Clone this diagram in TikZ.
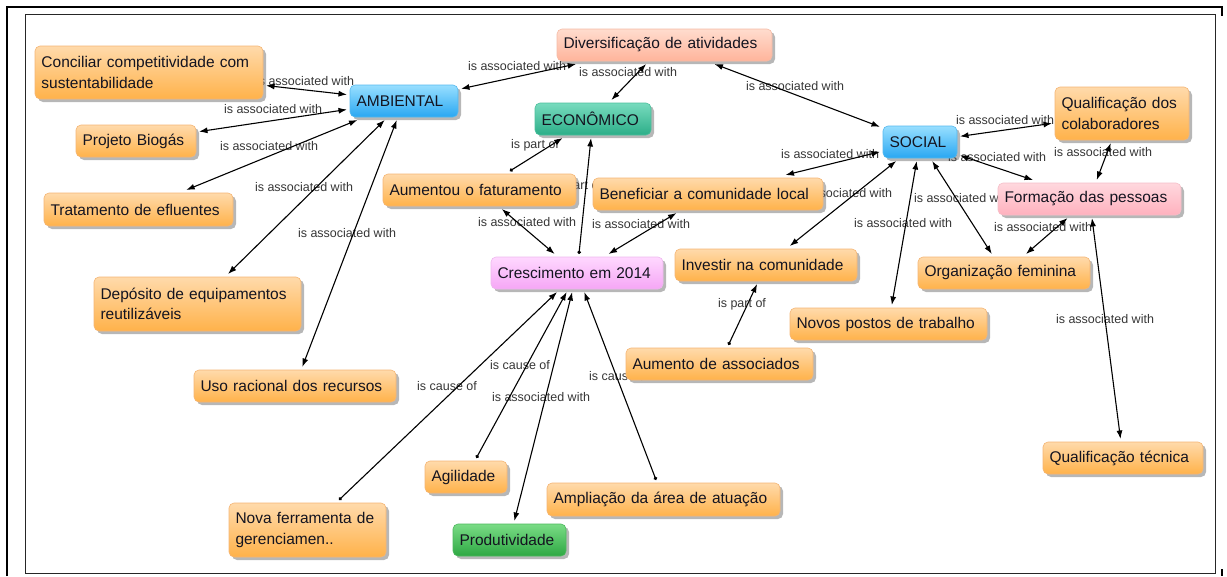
\documentclass[tikz,border=0pt]{standalone}
\usepackage{fontspec}
\setmainfont{Liberation Sans}
\usetikzlibrary{arrows.meta,shadows,backgrounds}

% concept fills: top / bottom of the gradient and outline
\definecolor{orTop}{HTML}{FFDAAB}
\definecolor{orBot}{HTML}{FFB24A}
\definecolor{orLine}{HTML}{F4B575}
\definecolor{blTop}{HTML}{98DFFF}
\definecolor{blBot}{HTML}{29A7F2}
\definecolor{blLine}{HTML}{55B8EE}
\definecolor{saTop}{HTML}{FFDCCE}
\definecolor{saBot}{HTML}{FFB49B}
\definecolor{saLine}{HTML}{F5BBA6}
\definecolor{teTop}{HTML}{78DBBE}
\definecolor{teBot}{HTML}{2CAE88}
\definecolor{teLine}{HTML}{4DBF9C}
\definecolor{piTop}{HTML}{FFD8DE}
\definecolor{piBot}{HTML}{FFB1BE}
\definecolor{piLine}{HTML}{F5BEC8}
\definecolor{mgTop}{HTML}{FFD8FF}
\definecolor{mgBot}{HTML}{F5A6F5}
\definecolor{mgLine}{HTML}{EDB8ED}
\definecolor{grTop}{HTML}{7ADC86}
\definecolor{grBot}{HTML}{2EA843}
\definecolor{grLine}{HTML}{4DB85E}
\definecolor{lblgray}{HTML}{363636}
\definecolor{txt}{HTML}{141420}

\tikzset{
  concept/.style={rectangle, rounded corners=5pt, inner xsep=6.5pt, inner ysep=0pt,
    outer sep=3pt, align=left, text=txt, line width=0.6pt,
    font=\fontsize{15.5}{20.5}\selectfont,
    drop shadow={shadow xshift=3pt, shadow yshift=-3pt, opacity=0.4, fill=black!70}},
  cOr/.style={concept, top color=orTop, bottom color=orBot, draw=orLine},
  cBl/.style={concept, top color=blTop, bottom color=blBot, draw=blLine},
  cSa/.style={concept, top color=saTop, bottom color=saBot, draw=saLine},
  cTe/.style={concept, top color=teTop, bottom color=teBot, draw=teLine},
  cPi/.style={concept, top color=piTop, bottom color=piBot, draw=piLine},
  cMg/.style={concept, top color=mgTop, bottom color=mgBot, draw=mgLine},
  cGr/.style={concept, top color=grTop, bottom color=grBot, draw=grLine},
  % text width (box width less the side padding) and box height
  sz/.style 2 args={text width=#1pt, minimum height=#2pt},
  lbl/.style={font=\fontsize{12.5}{14}\selectfont, text=lblgray, inner sep=0pt},
  assoc/.style={line width=1.1pt, {Latex[length=8.5pt,width=6pt]}-{Latex[length=8.5pt,width=6pt]}},
  link/.style={line width=1.1pt, {Circle[length=3.5pt]}-{Latex[length=8.5pt,width=6pt]}},
}

\begin{document}
\begin{tikzpicture}[x=1pt,y=-1pt]
\useasboundingbox (0,0) rectangle (1227,576);

% frames
\draw[line width=2.6pt] (7,576) -- (7,7) -- (1222,7) -- (1222,16);
\draw[line width=2.6pt] (1222,569) -- (1222,576);
\draw[line width=1pt, black!85] (25,14) rectangle (1215,573);

% concepts
\node[cOr, sz={215}{53}] (conc) at (149,72.5) {Conciliar competitividade com\\sustentabilidade};
\node[cBl, sz={95}{32}] (amb) at (404,101) {AMBIENTAL};
\node[cSa, sz={202}{32}] (div) at (664.5,45) {Diversificação de atividades};
\node[cTe, sz={103}{32}] (eco) at (593,119) {ECONÔMICO};
\node[cBl, sz={61}{32}] (soc) at (920,142) {SOCIAL};
\node[cOr, sz={121}{53}] (qcol) at (1122,113.5) {Qualificação dos\\colaboradores};
\node[cPi, sz={170}{32}] (form) at (1089.5,199) {Formação das pessoas};
\node[cOr, sz={107}{32}] (bio) at (136,141) {Projeto Biogás};
\node[cOr, sz={176}{33}] (trat) at (138.5,209.5) {Tratamento de efluentes};
\node[cOr, sz={180}{32}] (fat) at (479.5,190) {Aumentou o faturamento};
\node[cOr, sz={217}{32}] (ben) at (708,194) {Beneficiar a comunidade local};
\node[cMg, sz={159}{32}] (cre) at (577,273) {Crescimento em 2014};
\node[cOr, sz={169}{32}] (inv) at (766,265) {Investir na comunidade};
\node[cOr, sz={159}{32}] (org) at (1004,273) {Organização feminina};
\node[cOr, sz={184}{32}] (nov) at (888.5,324) {Novos postos de trabalho};
\node[cOr, sz={174}{32}] (aum) at (719.5,364) {Aumento de associados};
\node[cOr, sz={194}{54}] (dep) at (197.5,304) {Depósito de equipamentos\\reutilizáveis};
\node[cOr, sz={189}{32}] (uso) at (295,386) {Uso racional dos recursos};
\node[cOr, sz={144}{54}] (nova) at (307.5,530) {Nova ferramenta de\\gerenciamen..};
\node[cOr, sz={69}{32}] (agi) at (466,477) {Agilidade};
\node[cOr, sz={220}{33}] (amp) at (663.5,499.5) {Ampliação da área de atuação};
\node[cGr, sz={100}{32}] (prod) at (509.5,540) {Produtividade};
\node[cOr, sz={147}{32}] (qtec) at (1123,458) {Qualificação técnica};

\begin{pgfonlayer}{background}
% linking phrases
\node[lbl] (l1) at (305,81) {is associated with};
\node[lbl] (l2) at (273,109) {is associated with};
\node[lbl] (l3) at (269,146) {is associated with};
\node[lbl] (l4) at (304,187) {is associated with};
\node[lbl] (l5) at (347,233) {is associated with};
\node[lbl] (l6) at (517,66) {is associated with};
\node[lbl] (l7) at (628,72) {is associated with};
\node[lbl] (l8) at (795,86) {is associated with};
\node[lbl] (l9) at (535,145) {is part of};
\node[lbl] (l10) at (578,186) {is part of};
\node[lbl] (l11) at (527,222) {is associated with};
\node[lbl] (l12) at (641,224) {is associated with};
\node[lbl] (l13) at (830,154) {is associated with};
\node[lbl] (l14) at (843,193) {is associated with};
\node[lbl] (l15) at (903,223) {is associated with};
\node[lbl] (l16) at (963,198) {is associated with};
\node[lbl] (l17) at (1005,120) {is associated with};
\node[lbl] (l18) at (997,157) {is associated with};
\node[lbl] (l19) at (1103,152) {is associated with};
\node[lbl] (l20) at (1043,227) {is associated with};
\node[lbl] (l21) at (1105,319) {is associated with};
\node[lbl] (l22) at (742,304) {is part of};
\node[lbl] (l23) at (447,386) {is cause of};
\node[lbl] (l24) at (520,365) {is cause of};
\node[lbl] (l25) at (541,397) {is associated with};
\node[lbl] (l26) at (619,376) {is cause of};

% connectors
\draw[assoc] (conc) -- (amb);
\draw[assoc] (bio) -- (amb);
\draw[assoc] (trat) -- (amb);
\draw[assoc] (dep) -- (amb);
\draw[assoc] (uso) -- (amb);
\draw[assoc] (div) -- (amb);
\draw[assoc] (div) -- (eco);
\draw[assoc] (div) -- (soc);
\draw[link] (fat) -- (eco);
\draw[link] (cre) -- (eco);
\draw[assoc] (fat) -- (cre);
\draw[assoc] (ben) -- (cre);
\draw[assoc] (soc) -- (ben);
\draw[assoc] (soc) -- (inv);
\draw[assoc] (soc) -- (nov);
\draw[assoc] (soc) -- (org);
\draw[assoc] (soc) -- (qcol);
\draw[assoc] (soc) -- (form);
\draw[assoc] (qcol) -- (form);
\draw[assoc] (form) -- (org);
\draw[assoc] (form) -- (qtec);
\draw[link] (aum) -- (inv);
\draw[link] (nova) -- (cre);
\draw[link] (agi) -- (cre);
\draw[assoc] (cre) -- (prod);
\draw[link] (amp) -- (cre);
\end{pgfonlayer}
\end{tikzpicture}
\end{document}
